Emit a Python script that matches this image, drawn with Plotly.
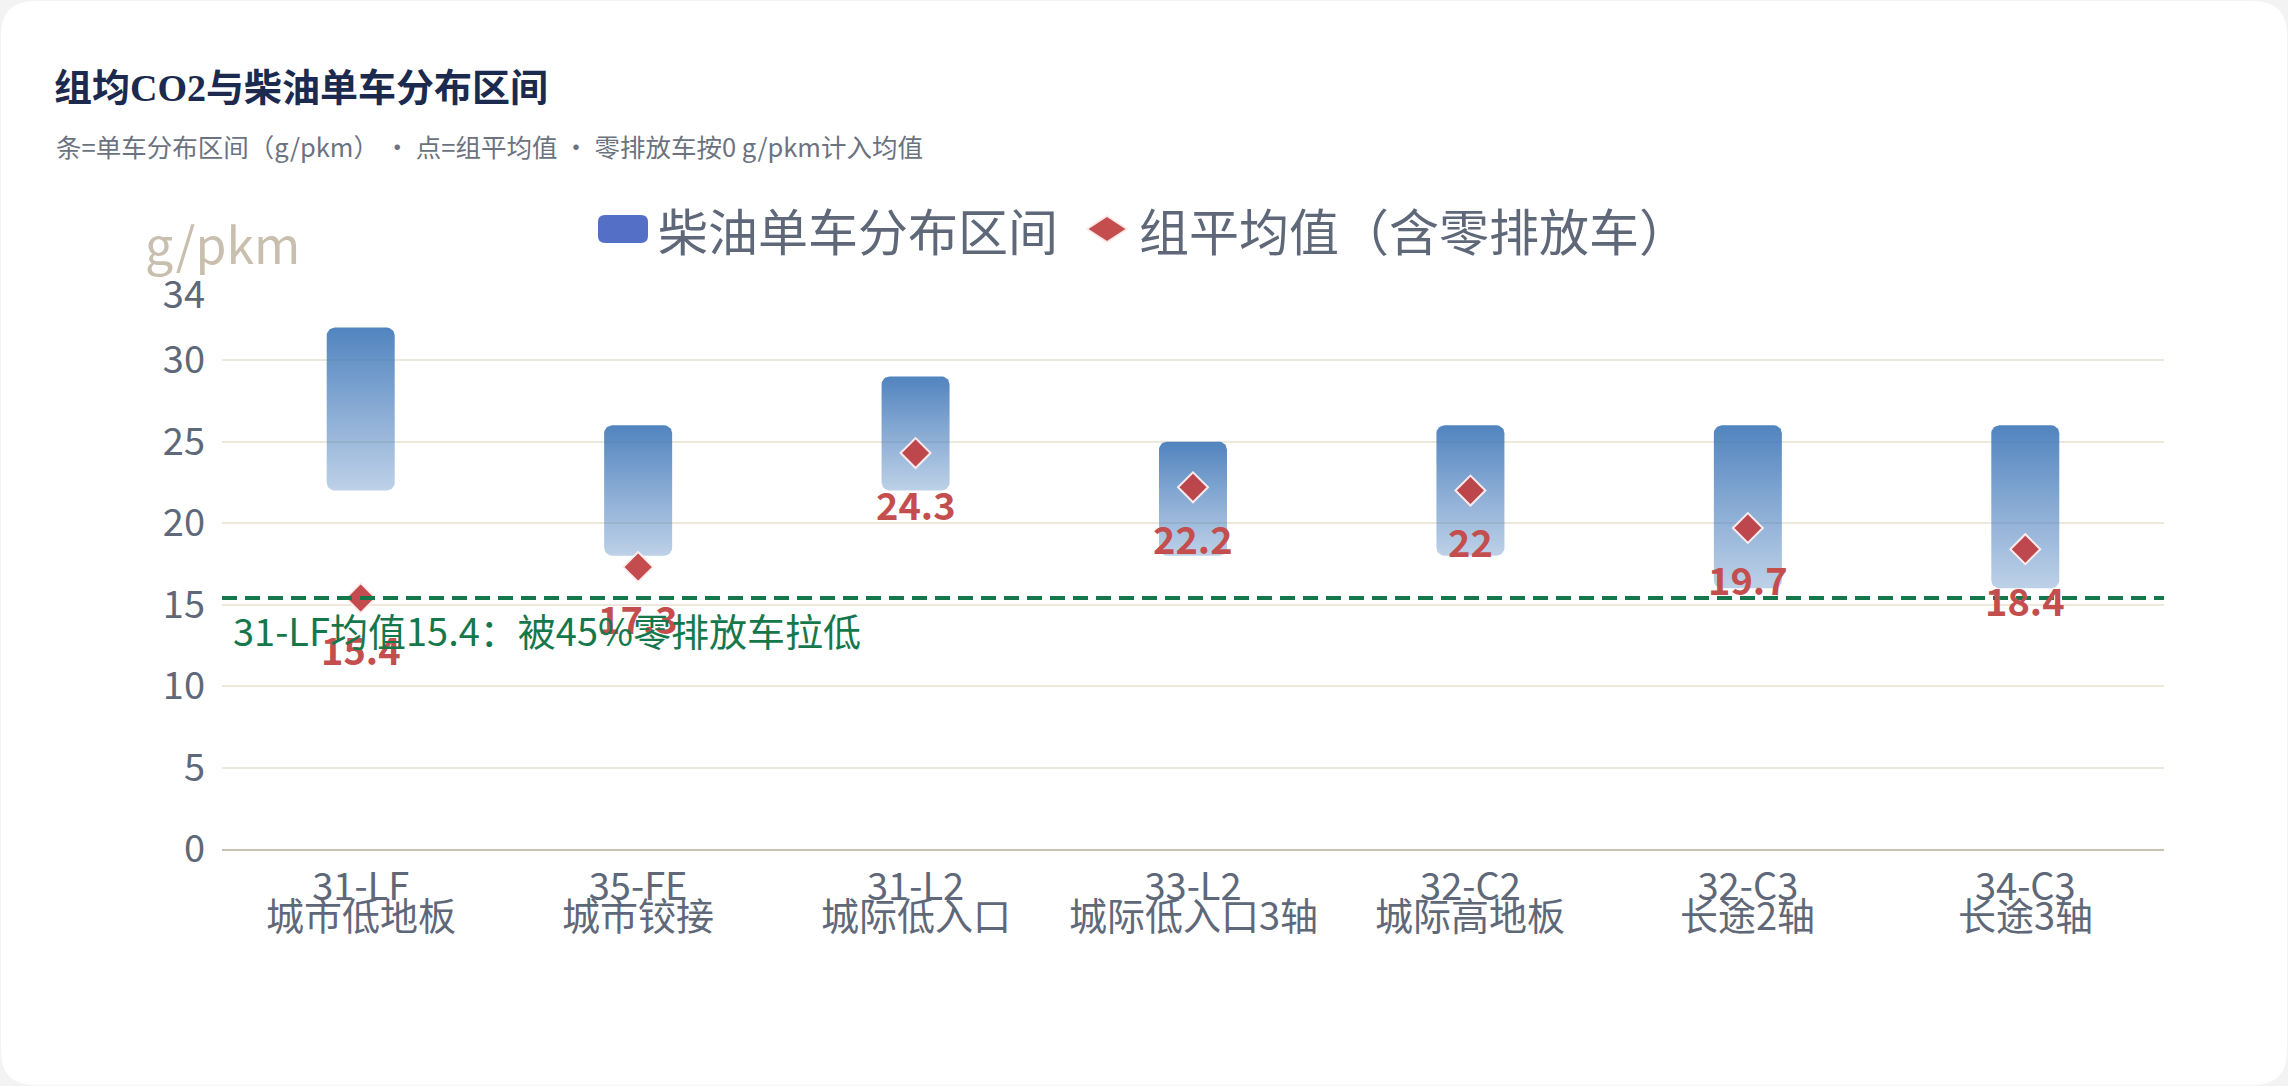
import numpy as np
import plotly.graph_objects as go

# ---------------- data ----------------
codes = ["31-LF", "35-FE", "31-L2", "33-L2", "32-C2", "32-C3", "34-C3"]
names = ["城市低地板", "城市铰接", "城际低入口", "城际低入口3轴", "城际高地板", "长途2轴", "长途3轴"]
low = [22, 18, 22, 18, 18, 16, 16]
high = [32, 26, 29, 25, 26, 26, 26]
mean = [15.4, 17.3, 24.3, 22.2, 22, 19.7, 18.4]
mean_labels = ["15.4", "17.3", "24.3", "22.2", "22", "19.7", "18.4"]
y_ticks = [0, 5, 10, 15, 20, 25, 30, 34]
legend_labels = ["柴油单车分布区间", "组平均值（含零排放车）"]
ref_idx = 0
zero_share = "45%"
title = "组均CO2与柴油单车分布区间"
subtitle = "条=单车分布区间（g/pkm） · 点=组平均值 · 零排放车按0 g/pkm计入均值"
unit = "g/pkm"

# ---------------- geometry ----------------
W, H = 2288, 1086
ML, MR, MT, MB = 222, 124, 295, 237
PW, PH = W - ML - MR, H - MT - MB
Y_MAX = 34
x_range = [-0.5, len(codes) - 0.5]
px_x = PW / (x_range[1] - x_range[0])
px_y = PH / Y_MAX
hw = 34 / px_x
rx, ry = 8 / px_x, 8 / px_y

FONT = "Noto Sans CJK SC"
GRAY = "#5f6878"
RED = "#c44e4e"
GREEN = "#15784c"


def px2p(x, y):
    return (x - ML) / PW, (H - MB - y) / PH


def rounded_bar(xc, y0, y1):
    t = np.linspace(0, np.pi / 2, 10)
    xs, ys = [], []
    for cx, cy, a0 in [(xc + hw - rx, y1 - ry, 0.0), (xc - hw + rx, y1 - ry, np.pi / 2),
                       (xc - hw + rx, y0 + ry, np.pi), (xc + hw - rx, y0 + ry, 1.5 * np.pi)]:
        a = a0 + t
        xs += list(cx + rx * np.cos(a))
        ys += list(cy + ry * np.sin(a))
    xs.append(xs[0])
    ys.append(ys[0])
    return xs, ys


fig = go.Figure()

for i in range(len(codes)):
    xs, ys = rounded_bar(i, low[i], high[i])
    fig.add_trace(go.Scatter(
        x=xs, y=ys, mode="lines", fill="toself", line=dict(width=0, color="rgba(0,0,0,0)"),
        fillgradient=dict(type="vertical",
                          colorscale=[[0, "rgba(72,126,190,0.36)"], [1, "rgba(66,121,185,0.92)"]],
                          start=low[i], stop=high[i]),
        hoverinfo="skip", showlegend=False))

fig.add_trace(go.Scatter(
    x=list(range(len(codes))), y=mean, mode="markers",
    marker=dict(symbol="diamond", size=23, color="rgba(192,62,66,0.93)",
                line=dict(color="rgba(255,240,240,0.95)", width=2)),
    hoverinfo="skip", showlegend=False))

annotations = []
for i, v in enumerate(mean):
    annotations.append(dict(x=i, y=v, xref="x", yref="y", text=mean_labels[i], showarrow=False,
                            yshift=-50, font=dict(family=FONT, size=38, color=RED, weight="bold")))

# category names (second line of x labels)
for i, n in enumerate(names):
    annotations.append(dict(x=i, y=px2p(0, 913)[1], xref="x", yref="paper", text=n, showarrow=False,
                            yanchor="middle", font=dict(family=FONT, size=38, color=GRAY)))

# reference line annotation
annotations.append(dict(x=px2p(231, 0)[0], y=mean[ref_idx], xref="paper", yref="y",
                        text=f"{codes[ref_idx]}均值{mean[ref_idx]}：被{zero_share}零排放车拉低",
                        showarrow=False, xanchor="left", yanchor="middle", yshift=-31,
                        font=dict(family=FONT, size=38, color=GREEN)))

# subtitle & unit
sx, sy = px2p(54, 146)
annotations.append(dict(x=sx, y=sy, xref="paper", yref="paper", text=subtitle, showarrow=False,
                        xanchor="left", yanchor="middle", font=dict(family=FONT, size=25.5, color="#6b7280")))
ux, uy = px2p(143, 242)
annotations.append(dict(x=ux, y=uy, xref="paper", yref="paper", text=unit, showarrow=False,
                        xanchor="left", yanchor="middle", font=dict(family=FONT, size=50, color="#c9bfae")))

# custom legend
t1x, t1y = px2p(656, 229)
t2x, _ = px2p(1137, 229)
annotations.append(dict(x=t1x, y=t1y, xref="paper", yref="paper", text=legend_labels[0], showarrow=False,
                        xanchor="left", yanchor="middle", font=dict(family=FONT, size=50, color=GRAY)))
annotations.append(dict(x=t2x, y=t1y, xref="paper", yref="paper", text=legend_labels[1], showarrow=False,
                        xanchor="left", yanchor="middle", font=dict(family=FONT, size=50, color=GRAY)))


def rrect_path(x0, y0, x1, y1, r):
    def P(x, y):
        a, b = px2p(x, y)
        return f"{a:.5f},{b:.5f}"
    return (f"M{P(x0 + r, y0)} L{P(x1 - r, y0)} Q{P(x1, y0)} {P(x1, y0 + r)} "
            f"L{P(x1, y1 - r)} Q{P(x1, y1)} {P(x1 - r, y1)} L{P(x0 + r, y1)} "
            f"Q{P(x0, y1)} {P(x0, y1 - r)} L{P(x0, y0 + r)} Q{P(x0, y0)} {P(x0 + r, y0)} Z")


def diamond_path(cx, cy, hx, hy):
    def P(x, y):
        a, b = px2p(x, y)
        return f"{a:.5f},{b:.5f}"
    return f"M{P(cx, cy - hy)} L{P(cx + hx, cy)} L{P(cx, cy + hy)} L{P(cx - hx, cy)} Z"


shapes = [
    dict(type="path", xref="paper", yref="paper", path=rrect_path(1, 1, W - 1, H - 1, 34),
         fillcolor="white", line=dict(width=0), layer="below"),
    dict(type="path", xref="paper", yref="paper", path=rrect_path(598, 215, 648, 243, 7),
         fillcolor="#5470c6", line=dict(width=0)),
    dict(type="path", xref="paper", yref="paper", path=diamond_path(1107, 229, 20, 13),
         fillcolor=RED, line=dict(width=2, color="rgba(255,235,235,0.9)")),
    dict(type="line", xref="paper", yref="y", x0=0, x1=1, y0=mean[ref_idx], y1=mean[ref_idx],
         line=dict(color=GREEN, width=4, dash="15px,8px")),
]

fig.update_layout(
    width=W, height=H,
    margin=dict(l=ML, r=MR, t=MT, b=MB, pad=0),
    paper_bgcolor="#f3f3f4", plot_bgcolor="rgba(0,0,0,0)",
    font=dict(family=FONT, color=GRAY),
    title=dict(text=title, x=54 / W, xref="container", xanchor="left", y=1 - 88 / H, yref="container",
               yanchor="middle", font=dict(family="Liberation Serif, " + FONT, size=38, color="#1b2a4e",
                                           weight="bold")),
    showlegend=False,
    annotations=annotations,
    shapes=shapes,
    xaxis=dict(range=x_range, tickmode="array", tickvals=list(range(len(codes))), ticktext=codes,
               showgrid=False, zeroline=False, showline=True, linecolor="#c9c1b5", linewidth=2,
               ticks="", tickfont=dict(family=FONT, size=38, color=GRAY), ticklabelstandoff=3,
               fixedrange=True),
    yaxis=dict(range=[0, Y_MAX], tickmode="array", tickvals=y_ticks, ticktext=[str(v) for v in y_ticks],
               showgrid=True, gridcolor="#ede8dc", gridwidth=2, zeroline=False, showline=False,
               ticks="", tickfont=dict(family=FONT, size=38, color=GRAY), ticklabelstandoff=16,
               fixedrange=True),
)

fig.write_html("out.html")
